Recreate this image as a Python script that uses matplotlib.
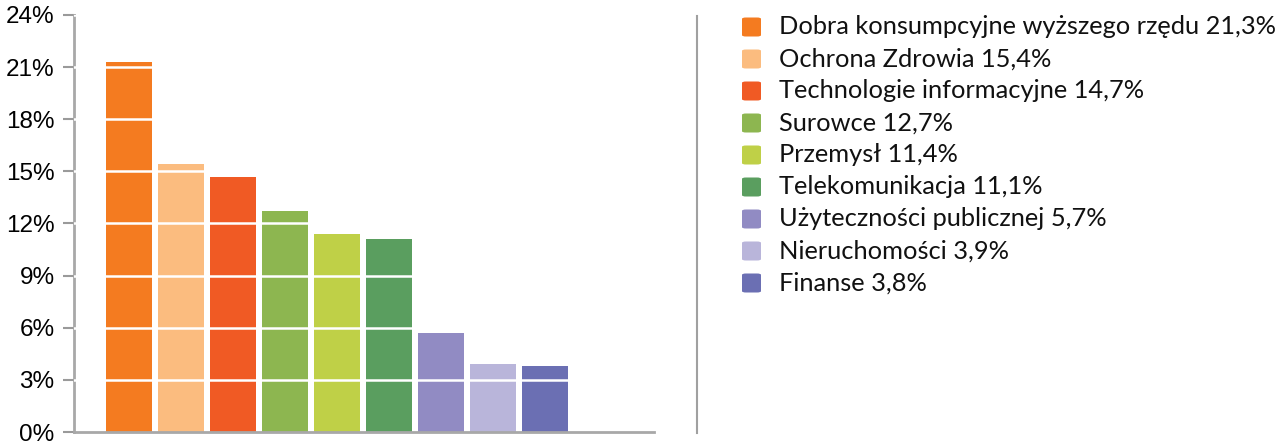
import matplotlib.pyplot as plt
from matplotlib.patches import FancyBboxPatch

sektory = ["Dobra konsumpcyjne wyższego rzędu", "Ochrona Zdrowia",
           "Technologie informacyjne", "Surowce", "Przemysł",
           "Telekomunikacja", "Użyteczności publicznej", "Nieruchomości", "Finanse"]
udzialy = [21.3, 15.4, 14.7, 12.7, 11.4, 11.1, 5.7, 3.9, 3.8]
kolory = ["#F47B20", "#FBBC7F", "#F05A24", "#8DB650", "#BFD047",
          "#5A9E5F", "#918BC3", "#B9B5DA", "#6B6FB3"]
ticki = [0, 3, 6, 9, 12, 15, 18, 21, 24]

fig = plt.figure(figsize=(12.88, 4.41), dpi=100)
ax = fig.add_axes([0.0575, 0.0204, 0.4505, 0.9456])

x = range(len(udzialy))
ax.bar(x, udzialy, width=0.885, color=kolory, zorder=2)
for t in ticki[1:]:
    ax.axhline(t, color="white", linewidth=1.8, zorder=3)

ax.set_xlim(-1.06, 10.1)
ax.set_ylim(0, 24)
ax.set_yticks(ticki)
ax.set_yticklabels([f"{t}%" for t in ticki], fontsize=17.5, family="Liberation Sans")
ax.set_xticks([])
ax.tick_params(axis="y", length=8, width=1.5, color="#9a9a9a", pad=6)
for s in ["top", "right"]:
    ax.spines[s].set_visible(False)
for s in ["left", "bottom"]:
    ax.spines[s].set_color("#a8a8a8")
    ax.spines[s].set_linewidth(2)

# linia oddzielająca legendę
fig.add_artist(plt.Line2D([697 / 1288, 697 / 1288], [1 - 16 / 441, 1 - 433 / 441],
                          color="#a0a0a0", linewidth=1.5))

W, H = 1288, 441
for i, (nazwa, val, kol) in enumerate(zip(sektory, udzialy, kolory)):
    yc = 27 + i * 32
    sq = FancyBboxPatch((742 / W, 1 - (yc + 9.5) / H), 19 / W, 19 / H,
                        boxstyle="round,pad=0,rounding_size=0.003",
                        transform=fig.transFigure, facecolor=kol, edgecolor="none")
    fig.add_artist(sq)
    etykieta = f"{nazwa} {val:.1f}%".replace(".", ",")
    fig.text(779 / W, 1 - yc / H, etykieta, fontsize=18.3, family="Lato",
             va="center", ha="left", color="#111111")

fig.savefig("out.png", dpi=100)
